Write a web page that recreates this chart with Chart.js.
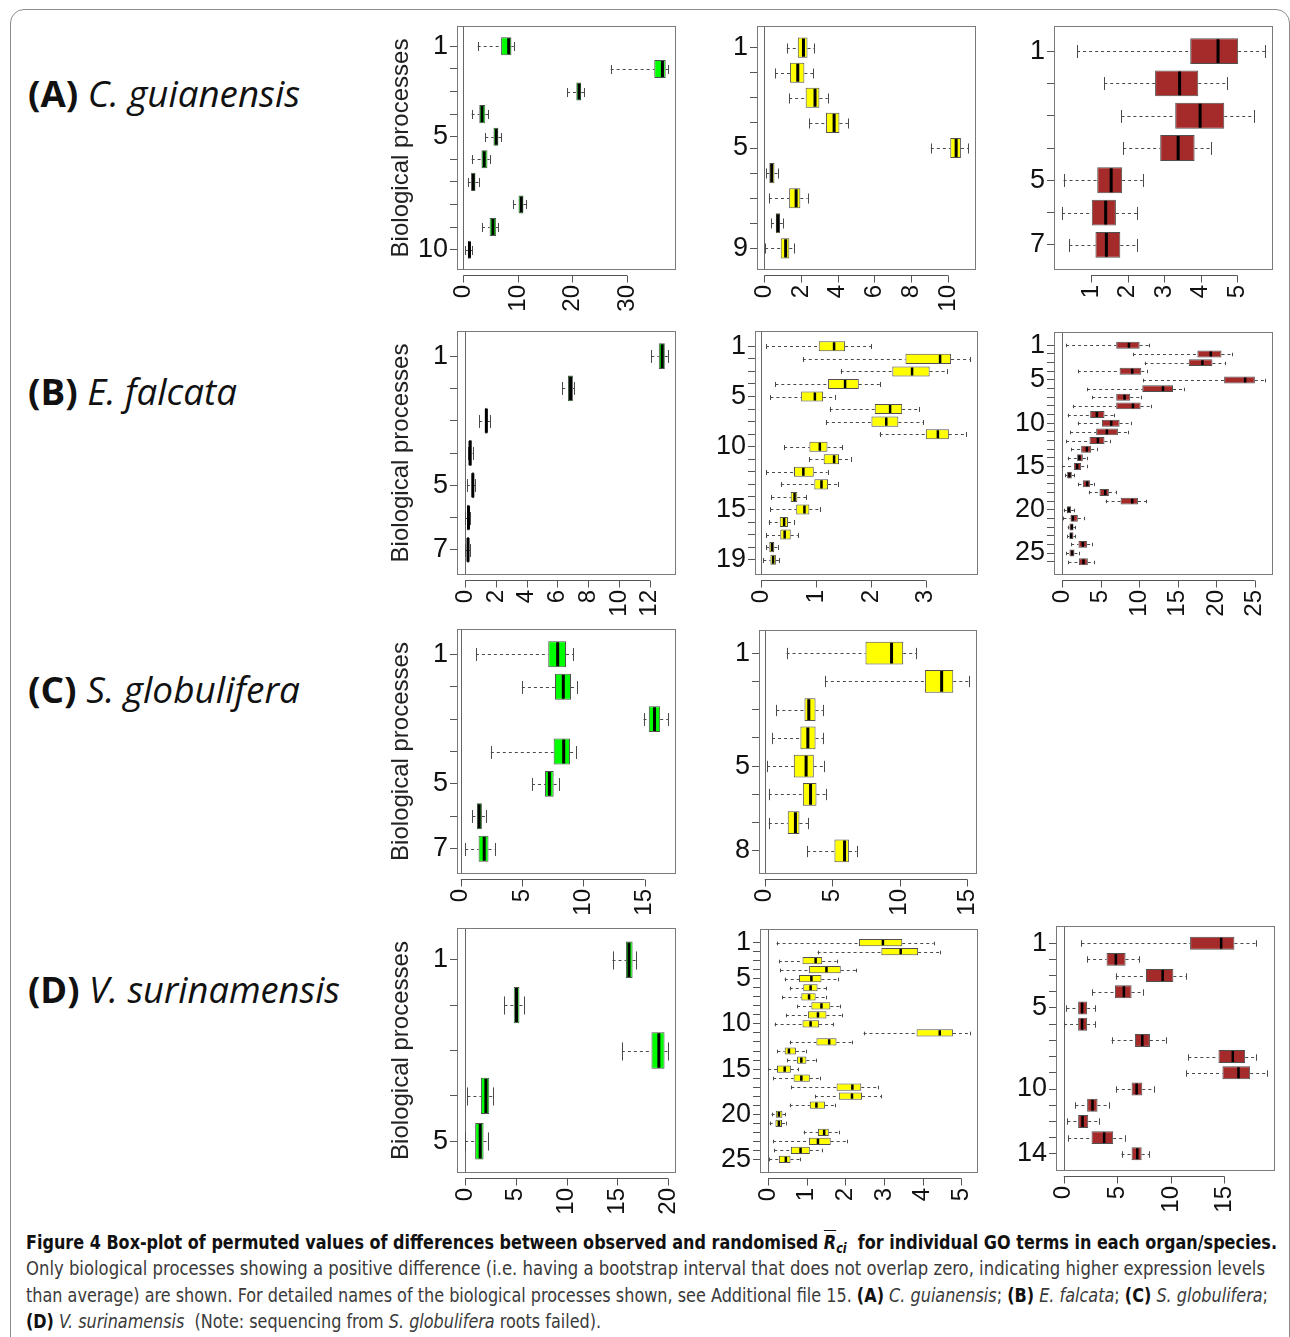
<!DOCTYPE html>
<html>
<head>
<meta charset="utf-8">
<script src="https://cdn.jsdelivr.net/npm/chart.js@4.4.1/dist/chart.umd.min.js"></script>
<style>
html, body { margin: 0; padding: 0; background: #fff; }
body { width: 1290px; height: 1337px; position: relative; overflow: hidden; font-family: "Liberation Sans", Arial, sans-serif; }
#frame { position: absolute; left: 10px; top: 9px; width: 1278px; height: 1400px; border: 1px solid #8c8c8c; border-radius: 14px; }
.species { position: absolute; left: 28px; font-family: "Open Sans", sans-serif; font-size: 36px; line-height: 40px; height: 40px; color: #111; white-space: nowrap; transform-origin: left center; display: inline-block; }
.panel { position: absolute; }
.cap { position: absolute; left: 26px; height: 26px; line-height: 26px; font-family: "Liberation Sans Narrow", "DejaVu Sans Condensed", sans-serif; font-size: 19px; color: #3a3a3a; white-space: nowrap; transform-origin: left center; display: inline-block; }
.cap.head { color: #111; font-weight: bold; }
.ov { text-decoration: overline; }
sub { font-size: 70%; vertical-align: -4px; line-height: 0; }
</style>
</head>
<body>
<div id="frame"></div>

<div class="species" data-w="272" style="top:74px"><b>(A)</b> <i>C. guianensis</i></div>
<div class="species" data-w="209" style="top:372px"><b>(B)</b> <i>E. falcata</i></div>
<div class="species" data-w="272" style="top:670px"><b>(C)</b> <i>S. globulifera</i></div>
<div class="species" data-w="312" style="top:970px"><b>(D)</b> <i>V. surinamensis</i></div>

<div class="cap head" data-w="1251" style="top:1229px">Figure 4 Box-plot of permuted values of differences between observed and randomised <i><span class="ov">R</span><sub>ci</sub></i>&nbsp; for individual GO terms in each organ/species.</div>
<div class="cap" data-w="1239" style="top:1255px">Only biological processes showing a positive difference (i.e. having a bootstrap interval that does not overlap zero, indicating higher expression levels</div>
<div class="cap" data-w="1242" style="top:1282px">than average) are shown. For detailed names of the biological processes shown, see Additional file 15. <b style="color:#111">(A)</b> <i>C. guianensis</i>; <b style="color:#111">(B)</b> <i>E. falcata</i>; <b style="color:#111">(C)</b> <i>S. globulifera</i>;</div>
<div class="cap" data-w="575" style="top:1308px"><b style="color:#111">(D)</b> <i>V. surinamensis</i>&nbsp; (Note: sequencing from <i>S. globulifera</i> roots failed).</div>

<script>
// each row: [whisker min, q1, median, q3, whisker max]
const aGreen = [
    [2.6, 6.9, 8.3, 8.8, 9.2], [27.0, 35.0, 36.5, 37.1, 37.5], [19.0, 20.7, 21.2, 21.6, 22.2],
    [1.5, 2.9, 3.4, 4.0, 4.5], [4.0, 5.5, 6.0, 6.4, 6.9], [1.5, 3.3, 3.8, 4.4, 4.8],
    [0.8, 1.4, 1.8, 2.2, 2.9], [9.1, 10.1, 10.6, 11.0, 11.5], [3.4, 4.8, 5.4, 6.0, 6.4],
    [0.3, 0.8, 1.1, 1.35, 1.65]
];
const aGreenLabels = ["1", "", "", "", "5", "", "", "", "", "10"];
const aGreenTicks = [0, 10, 20, 30];

const aYellow = [
    [1.22, 1.82, 2.13, 2.35, 2.73], [0.58, 1.40, 1.82, 2.18, 2.67], [1.35, 2.25, 2.76, 3.00, 3.45],
    [2.45, 3.36, 3.80, 4.09, 4.55], [9.07, 10.13, 10.45, 10.71, 11.09], [0.09, 0.27, 0.40, 0.55, 0.76],
    [0.25, 1.35, 1.73, 1.96, 2.35], [0.36, 0.62, 0.73, 0.85, 1.00], [0.04, 0.89, 1.16, 1.36, 1.62]
];
const aYellowLabels = ["1", "", "", "", "5", "", "", "", "9"];
const aYellowTicks = [0, 2, 4, 6, 8, 10];

const aRed = [
    [0.62, 3.71, 4.47, 5.02, 5.75], [1.36, 2.75, 3.42, 3.93, 4.71], [1.83, 3.30, 3.98, 4.64, 5.45],
    [1.88, 2.89, 3.38, 3.83, 4.28], [0.25, 1.17, 1.55, 1.85, 2.41], [0.21, 1.02, 1.40, 1.68, 2.26],
    [0.41, 1.12, 1.42, 1.80, 2.26]
];
const aRedLabels = ["1", "", "", "", "5", "", "7"];
const aRedTicks = [1, 2, 3, 4, 5];

const bGreen = [
    [12.09, 12.58, 12.80, 12.97, 13.17], [6.31, 6.68, 6.85, 7.00, 7.07], [0.91, 1.30, 1.38, 1.45, 1.62],
    [0.19, 0.24, 0.32, 0.43, 0.48], [0.11, 0.43, 0.50, 0.58, 0.65], [0.00, 0.13, 0.22, 0.28, 0.32],
    [0.00, 0.13, 0.19, 0.26, 0.30]
];
const bGreenLabels = ["1", "", "", "", "5", "", "7"];
const bGreenTicks = [0, 2, 4, 6, 8, 10, 12];

const bYellow = [
    [0.09, 1.05, 1.33, 1.53, 2.01], [0.76, 2.63, 3.26, 3.46, 3.80], [1.45, 2.39, 2.75, 3.07, 3.39],
    [0.26, 1.22, 1.53, 1.78, 2.16], [0.17, 0.73, 0.98, 1.13, 1.34], [1.25, 2.07, 2.35, 2.57, 2.88],
    [1.18, 2.01, 2.28, 2.50, 2.95], [2.16, 3.00, 3.22, 3.42, 3.73], [0.42, 0.88, 1.07, 1.21, 1.48],
    [0.88, 1.14, 1.33, 1.42, 1.64], [0.09, 0.60, 0.77, 0.96, 1.21], [0.36, 0.97, 1.10, 1.22, 1.41],
    [0.19, 0.54, 0.61, 0.66, 0.82], [0.17, 0.64, 0.79, 0.88, 1.08], [0.14, 0.34, 0.42, 0.49, 0.60],
    [0.09, 0.35, 0.43, 0.54, 0.67], [0.09, 0.15, 0.20, 0.24, 0.31], [0.04, 0.17, 0.22, 0.27, 0.33]
];
const bYellowLabels = ["1", "", "", "", "5", "", "", "", "10", "", "", "", "", "15", "", "", "", "19"];
const bYellowTicks = [0, 1, 2, 3];

const bRed = [
    [0.52, 7.02, 8.67, 10.06, 11.27], [9.19, 17.55, 19.29, 20.68, 21.98], [10.71, 16.43, 18.20, 19.50, 21.10],
    [2.04, 7.46, 9.10, 10.27, 11.05], [10.49, 21.02, 23.75, 25.01, 26.31], [3.25, 10.40, 13.09, 14.39, 15.82],
    [3.90, 7.02, 8.10, 8.84, 10.19], [1.39, 7.02, 9.19, 10.19, 11.57], [0.74, 3.64, 4.51, 5.50, 6.68],
    [2.04, 5.16, 6.37, 7.46, 8.97], [1.04, 4.42, 5.81, 7.24, 8.54], [0.52, 3.55, 4.64, 5.50, 6.16],
    [1.17, 2.47, 3.21, 3.77, 4.55], [0.74, 1.95, 2.25, 2.69, 3.25], [0.00, 1.52, 1.95, 2.47, 3.25],
    [0.39, 0.65, 0.95, 1.26, 1.60], [2.12, 2.69, 3.25, 3.64, 4.20], [3.47, 4.85, 5.59, 6.07, 6.94],
    [5.64, 7.59, 9.10, 9.84, 10.92], [0.22, 0.61, 0.87, 1.17, 1.52], [0.17, 1.08, 1.39, 2.04, 2.90],
    [0.74, 0.95, 1.26, 1.47, 1.69], [0.65, 0.95, 1.17, 1.47, 1.73], [1.17, 2.12, 2.69, 3.25, 3.90],
    [0.52, 0.95, 1.30, 1.60, 2.17], [0.82, 2.17, 2.77, 3.34, 4.20]
];
const bRedLabels = ["1", "", "", "", "5", "", "", "", "", "10", "", "", "", "", "15", "", "", "", "", "20", "", "", "", "", "25", ""];
const bRedTicks = [0, 5, 10, 15, 20, 25];

const cGreen = [
    [1.23, 7.14, 7.91, 8.59, 9.19], [4.99, 7.69, 8.37, 9.00, 9.49], [14.92, 15.35, 15.82, 16.28, 16.91],
    [2.45, 7.58, 8.40, 8.92, 9.41], [5.81, 6.87, 7.23, 7.58, 7.99], [0.95, 1.31, 1.50, 1.72, 2.05],
    [0.35, 1.45, 1.91, 2.26, 2.78]
];
const cGreenLabels = ["1", "", "", "", "5", "", "7"];
const cGreenTicks = [0, 5, 10, 15];

const cYellow = [
    [1.61, 7.46, 9.39, 10.25, 11.22], [4.45, 11.86, 13.10, 13.96, 15.12], [0.86, 2.94, 3.26, 3.76, 4.30],
    [0.54, 2.64, 3.19, 3.76, 4.32], [0.17, 2.15, 3.06, 3.63, 4.42], [0.30, 2.82, 3.39, 3.83, 4.50],
    [0.30, 1.70, 2.27, 2.57, 3.21], [3.14, 5.16, 5.91, 6.23, 6.80]
];
const cYellowLabels = ["1", "", "", "", "5", "", "", "8"];
const cYellowTicks = [0, 5, 10, 15];

const dGreen = [
    [14.54, 15.86, 16.16, 16.52, 16.89], [3.87, 4.80, 5.07, 5.36, 5.76], [15.46, 18.38, 19.11, 19.67, 20.00],
    [0.23, 1.56, 2.05, 2.38, 2.78], [0.00, 0.99, 1.49, 1.82, 2.22]
];
const dGreenLabels = ["1", "", "", "", "5"];
const dGreenTicks = [0, 5, 10, 15, 20];

const dYellow = [
    [0.22, 2.35, 2.97, 3.47, 4.28], [1.28, 2.93, 3.43, 3.88, 4.44], [0.28, 0.89, 1.23, 1.40, 1.77],
    [0.32, 1.06, 1.51, 1.88, 2.28], [0.43, 0.80, 1.12, 1.38, 1.81], [0.56, 0.91, 1.10, 1.28, 1.51],
    [0.37, 0.86, 1.06, 1.23, 1.49], [0.75, 1.12, 1.38, 1.61, 1.85], [0.46, 1.03, 1.29, 1.51, 1.90],
    [0.17, 0.89, 1.10, 1.32, 1.68], [2.47, 3.84, 4.44, 4.78, 5.22], [0.56, 1.25, 1.58, 1.77, 2.17],
    [0.24, 0.43, 0.54, 0.72, 0.97], [0.50, 0.75, 0.86, 0.99, 1.25], [0.00, 0.23, 0.43, 0.59, 0.78],
    [0.13, 0.66, 0.86, 1.08, 1.34], [0.60, 1.77, 2.18, 2.41, 2.83], [1.21, 1.83, 2.17, 2.43, 2.93],
    [0.56, 1.08, 1.25, 1.47, 1.72], [0.09, 0.20, 0.28, 0.37, 0.45], [0.04, 0.19, 0.28, 0.36, 0.46],
    [0.92, 1.29, 1.45, 1.57, 1.84], [0.13, 1.06, 1.29, 1.62, 2.03], [0.16, 0.59, 0.84, 1.08, 1.40],
    [0.03, 0.28, 0.46, 0.58, 0.82]
];
const dYellowLabels = ["1", "", "", "", "5", "", "", "", "", "10", "", "", "", "", "15", "", "", "", "", "20", "", "", "", "", "25"];
const dYellowTicks = [0, 1, 2, 3, 4, 5];

const dRed = [
    [1.65, 11.79, 14.69, 15.93, 17.96], [2.18, 3.99, 4.86, 5.77, 7.02], [4.86, 7.67, 9.23, 10.23, 11.41],
    [2.68, 4.77, 5.61, 6.33, 7.36], [0.25, 1.34, 1.71, 2.18, 2.90], [0.03, 1.34, 1.71, 2.18, 2.90],
    [4.46, 6.64, 7.33, 8.04, 9.51], [11.63, 14.44, 15.78, 16.93, 17.96], [11.41, 14.81, 16.31, 17.40, 18.96],
    [4.86, 6.33, 6.80, 7.33, 8.45], [1.09, 2.18, 2.68, 3.15, 4.24], [0.34, 1.34, 1.75, 2.28, 3.27],
    [0.41, 2.59, 3.77, 4.61, 5.71], [5.39, 6.33, 6.86, 7.27, 7.95]
];
const dRedLabels = ["1", "", "", "", "5", "", "", "", "", "10", "", "", "", "14"];
const dRedTicks = [0, 5, 10, 15];

const green = "#00ff00";
const yellow = "#ffff00";
const brown = "#a52a2a";
const FONT = "'Liberation Sans', Arimo, Arial, Helvetica, sans-serif";

// where each plot box sits on the page: [left, top, right, bottom]
const panels = [
    { stats: aGreen, labels: aGreenLabels, xTicks: aGreenTicks, fill: green, box: [457, 26, 676, 270], first: true, zero: true },
    { stats: aYellow, labels: aYellowLabels, xTicks: aYellowTicks, fill: yellow, box: [757, 26, 976, 270], zero: true },
    { stats: aRed, labels: aRedLabels, xTicks: aRedTicks, fill: brown, box: [1054, 26, 1273, 270], zero: false },
    { stats: bGreen, labels: bGreenLabels, xTicks: bGreenTicks, fill: green, box: [457, 331, 676, 575], first: true, zero: true },
    { stats: bYellow, labels: bYellowLabels, xTicks: bYellowTicks, fill: yellow, box: [755, 331, 978, 575], zero: true },
    { stats: bRed, labels: bRedLabels, xTicks: bRedTicks, fill: brown, box: [1054, 332, 1273, 575], zero: true },
    { stats: cGreen, labels: cGreenLabels, xTicks: cGreenTicks, fill: green, box: [457, 629, 676, 874], first: true, zero: true },
    { stats: cYellow, labels: cYellowLabels, xTicks: cYellowTicks, fill: yellow, box: [759, 630, 977, 874], zero: true },
    { stats: dGreen, labels: dGreenLabels, xTicks: dGreenTicks, fill: green, box: [457, 928, 676, 1173], first: true, zero: true },
    { stats: dYellow, labels: dYellowLabels, xTicks: dYellowTicks, fill: yellow, box: [760, 929, 978, 1173], zero: true },
    { stats: dRed, labels: dRedLabels, xTicks: dRedTicks, fill: brown, box: [1056, 926, 1275, 1171], zero: true }
];

// whiskers, staples, medians, frame and the R style x axis
const boxplotParts = {
    id: "boxplotParts",
    beforeDatasetsDraw(chart, args, opts) {
        const { ctx, chartArea: a } = chart;
        const x = chart.scales.x;
        const y = chart.scales.y;
        ctx.save();
        if (opts.zero) {
            const zx = Math.round(x.getPixelForValue(0)) + 0.5;
            ctx.strokeStyle = "#666";
            ctx.lineWidth = 1;
            ctx.beginPath();
            ctx.moveTo(zx, a.top);
            ctx.lineTo(zx, a.bottom);
            ctx.stroke();
        }
        const h = Math.abs(y.getPixelForValue(1.4) - y.getPixelForValue(1));
        ctx.strokeStyle = "#4a4a4a";
        ctx.lineWidth = 1;
        opts.stats.forEach((s, i) => {
            const cy = Math.round(y.getPixelForValue(i + 1)) + 0.5;
            ctx.setLineDash([3, 3]);
            ctx.beginPath();
            ctx.moveTo(x.getPixelForValue(s[0]), cy);
            ctx.lineTo(x.getPixelForValue(s[1]), cy);
            ctx.moveTo(x.getPixelForValue(s[3]), cy);
            ctx.lineTo(x.getPixelForValue(s[4]), cy);
            ctx.stroke();
            ctx.setLineDash([]);
            ctx.beginPath();
            [s[0], s[4]].forEach(v => {
                const px = Math.round(x.getPixelForValue(v)) + 0.5;
                ctx.moveTo(px, cy - h / 2);
                ctx.lineTo(px, cy + h / 2);
            });
            ctx.stroke();
        });
        ctx.restore();
    },
    afterDatasetsDraw(chart, args, opts) {
        const { ctx } = chart;
        const x = chart.scales.x;
        const y = chart.scales.y;
        const h = Math.abs(y.getPixelForValue(1.4) - y.getPixelForValue(1));
        ctx.save();
        ctx.strokeStyle = "#000";
        ctx.lineWidth = h > 8 ? 3 : 2.5;
        ctx.beginPath();
        opts.stats.forEach((s, i) => {
            const cy = y.getPixelForValue(i + 1);
            const mx = x.getPixelForValue(s[2]);
            ctx.moveTo(mx, cy - h + 1);
            ctx.lineTo(mx, cy + h - 1);
        });
        ctx.stroke();
        ctx.restore();
    },
    afterDraw(chart) {
        const { ctx, chartArea: a } = chart;
        const x = chart.scales.x;
        ctx.save();
        ctx.strokeStyle = "#7a7a7a";
        ctx.lineWidth = 1;
        ctx.strokeRect(Math.round(a.left) + 0.5, Math.round(a.top) + 0.5, Math.round(a.right - a.left) - 1, Math.round(a.bottom - a.top) - 1);
        const ay = Math.round(a.bottom) + 5.5;
        const first = x.getPixelForValue(x.ticks[0].value);
        const last = x.getPixelForValue(x.ticks[x.ticks.length - 1].value);
        ctx.strokeStyle = "#555";
        ctx.beginPath();
        ctx.moveTo(first, ay);
        ctx.lineTo(last, ay);
        x.ticks.forEach(t => {
            const px = Math.round(x.getPixelForValue(t.value)) + 0.5;
            ctx.moveTo(px, ay);
            ctx.lineTo(px, ay + 7);
        });
        ctx.stroke();
        ctx.restore();
    }
};

function buildPanel(p) {
    const axisW = p.first ? 77 : 52;
    const axisH = 50;
    const [bl, bt, br, bb] = p.box;
    const holder = document.createElement("div");
    holder.className = "panel";
    const w = br - bl + axisW + 4;
    const hgt = bb - bt + 10 + axisH;
    holder.style.left = (bl - axisW) + "px";
    holder.style.top = (bt - 10) + "px";
    holder.style.width = w + "px";
    holder.style.height = hgt + "px";
    const canvas = document.createElement("canvas");
    canvas.width = w;
    canvas.height = hgt;
    canvas.style.width = w + "px";
    canvas.style.height = hgt + "px";
    holder.appendChild(canvas);
    document.body.appendChild(holder);

    // R-like ranges: 4% padding round the data
    const lo = Math.min(...p.stats.map(s => s[0]));
    const hi = Math.max(...p.stats.map(s => s[4]));
    const pad = (hi - lo) * 0.04;
    const n = p.stats.length;

    new Chart(canvas, {
        type: "bar",
        data: {
            datasets: [{
                data: p.stats.map((s, i) => ({ x: [s[1], s[3]], y: i + 1 })),
                backgroundColor: p.fill,
                borderColor: "#505050",
                borderWidth: 1,
                borderSkipped: false,
                barPercentage: 0.8,
                categoryPercentage: 1.0
            }]
        },
        options: {
            indexAxis: "y",
            responsive: false,
            animation: false,
            layout: { padding: { top: 10, right: 4, left: 0, bottom: 0 } },
            plugins: {
                legend: { display: false },
                tooltip: { enabled: false },
                boxplotParts: { stats: p.stats, zero: p.zero }
            },
            scales: {
                x: {
                    type: "linear",
                    min: lo - pad,
                    max: hi + pad,
                    afterBuildTicks: ax => { ax.ticks = p.xTicks.map(v => ({ value: v })); },
                    afterFit: ax => { ax.height = axisH; ax.paddingLeft = 0; ax.paddingRight = 0; },
                    grid: { display: true, drawOnChartArea: false, color: "rgba(0,0,0,0)", tickLength: 12 },
                    border: { display: false },
                    ticks: {
                        autoSkip: false, maxRotation: 90, minRotation: 90, padding: 3,
                        color: "#111", font: { family: FONT, size: 24 }
                    }
                },
                y: {
                    type: "linear",
                    reverse: true,
                    offset: false,
                    min: 0.5 - 0.04 * n,
                    max: n + 0.5 + 0.04 * n,
                    afterBuildTicks: ax => { ax.ticks = p.labels.map((_, i) => ({ value: i + 1 })); },
                    afterFit: ax => { ax.width = axisW; ax.paddingTop = 0; ax.paddingBottom = 0; },
                    grid: { display: true, offset: false, drawOnChartArea: false, color: "#555", tickLength: 7 },
                    border: { display: false },
                    ticks: {
                        autoSkip: false, padding: 2, color: "#111",
                        font: { family: FONT, size: 27 },
                        callback: v => p.labels[Math.round(v) - 1]
                    },
                    title: {
                        display: !!p.first,
                        text: "Biological processes",
                        color: "#222",
                        font: { family: FONT, size: 24 },
                        padding: { top: 7, bottom: 0 }
                    }
                }
            }
        },
        plugins: [boxplotParts]
    });
}

// squeeze the text lines to the widths they have in the figure
function fitText() {
    document.querySelectorAll("[data-w]").forEach(el => {
        el.style.transform = "none";
        const target = parseFloat(el.dataset.w);
        const real = el.getBoundingClientRect().width;
        if (real > 0) el.style.transform = "scaleX(" + (target / real) + ")";
    });
}

fitText();
Promise.all([
    document.fonts.load("27px 'Liberation Sans'"),
    document.fonts.load("24px 'Liberation Sans'")
]).catch(() => null).then(() => {
    panels.forEach(buildPanel);
    fitText();
});
</script>
</body>
</html>
